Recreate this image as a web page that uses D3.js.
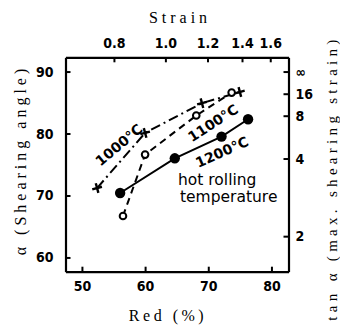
<!DOCTYPE html>
<html><head><meta charset="utf-8">
<script src="https://cdn.jsdelivr.net/npm/d3@7"></script>
<style>
body{margin:0;background:#fff;}
svg{display:block;}
</style></head>
<body>
<svg id="c" width="340" height="327"></svg>
<script>
// ---- data ----
const redTicks = [50, 60, 70, 80];
const angleTicks = [60, 70, 80, 90];
const strainTicks = [0.8, 1.0, 1.2, 1.4, 1.6];
const tanTicks = [2, 4, 8, 16, Infinity];
const tanLabels = ["2", "4", "8", "16", "∞"];

const red1000 = [52.4, 60.0, 69.0, 75.0];
const ang1000 = [71.2, 80.1, 84.9, 86.7];
const red1100 = [56.5, 60.0, 68.1, 73.7];
const ang1100 = [66.7, 76.6, 82.9, 86.6];
const red1200 = [56.05, 64.7, 72.1, 76.3];
const ang1200 = [70.4, 76.0, 79.5, 82.3];
const seriesNames = ["1000°C", "1100°C", "1200°C"];

// ---- layout ----
const svg = d3.select("#c");
const L = 65.5, R = 288.5, T = 57.3, B = 271.7;
const x = d3.scaleLinear().domain([47.4, 82.7]).range([L, R]);
const y = d3.scaleLinear().domain([57.7, 92.3]).range([B, T]);

const tickFont = "'DejaVu Sans Condensed','DejaVu Sans',sans-serif";
function styleAxis(g){
  g.select(".domain").attr("stroke","#000").attr("stroke-width",2.2);
  g.selectAll(".tick line").attr("stroke","#000").attr("stroke-width",2);
  g.selectAll(".tick text").attr("font-family",tickFont).attr("font-weight","bold")
   .attr("font-size",14).attr("fill","#000");
}

// bottom axis
svg.append("g").attr("transform",`translate(0,${B})`)
  .call(d3.axisBottom(x).tickValues(redTicks).tickSizeInner(-5).tickSizeOuter(0).tickPadding(9))
  .call(styleAxis);
// left axis
svg.append("g").attr("transform",`translate(${L},0)`)
  .call(d3.axisLeft(y).tickValues(angleTicks).tickSizeInner(-5).tickSizeOuter(0).tickPadding(12))
  .call(styleAxis);
// top axis (strain = -ln(1-red))
const strainPos = strainTicks.map(s => 100*(1-Math.exp(-s)));
svg.append("g").attr("transform",`translate(0,${T})`)
  .call(d3.axisTop(x).tickValues(strainPos).tickSizeInner(-5).tickSizeOuter(0).tickPadding(9)
        .tickFormat((d,i)=>d3.format(".1f")(strainTicks[i])))
  .call(styleAxis);
// right axis (tan alpha)
const tanPos = tanTicks.map(t => isFinite(t) ? Math.atan(t)*180/Math.PI : 90);
svg.append("g").attr("transform",`translate(${R},0)`)
  .call(d3.axisRight(y).tickValues(tanPos).tickSizeInner(-5).tickSizeOuter(0).tickPadding(7)
        .tickFormat((d,i)=>tanLabels[i]))
  .call(styleAxis);

// axis titles
const serif = "'Liberation Serif','Times New Roman',serif";
svg.append("text").attr("x",180).attr("y",23).attr("text-anchor","middle")
  .attr("font-family",serif).attr("font-size",16).attr("letter-spacing",4).text("Strain");
svg.append("text").attr("x",168).attr("y",321).attr("text-anchor","middle")
  .attr("font-family",serif).attr("font-size",16).attr("letter-spacing",3.5).text("Red (%)");
svg.append("text").attr("transform","translate(26,160) rotate(-90)").attr("text-anchor","middle")
  .attr("font-family",serif).attr("font-size",16).attr("letter-spacing",4).text("α (Shearing angle)");
svg.append("text").attr("transform","translate(337,178) rotate(-90)").attr("text-anchor","middle")
  .attr("font-family",serif).attr("font-size",15).attr("letter-spacing",4.3).text("tan α (max. shearing strain)");

// series
const line = d3.line().x(d=>x(d[0])).y(d=>y(d[1]));
const s1000 = red1000.map((r,i)=>[r, ang1000[i]]);
const s1100 = red1100.map((r,i)=>[r, ang1100[i]]);
const s1200 = red1200.map((r,i)=>[r, ang1200[i]]);

svg.append("path").attr("d",line(s1000)).attr("fill","none").attr("stroke","#000")
  .attr("stroke-width",2).attr("stroke-dasharray","10,4,2,4");
svg.append("path").attr("d",line(s1100)).attr("fill","none").attr("stroke","#000")
  .attr("stroke-width",2).attr("stroke-dasharray","7,5");
svg.append("path").attr("d",line(s1200)).attr("fill","none").attr("stroke","#000")
  .attr("stroke-width",2);

// markers
svg.selectAll(".m1000").data(s1000).join("g")
  .attr("transform",d=>`translate(${x(d[0])},${y(d[1])}) rotate(-15)`)
  .each(function(){
    const g = d3.select(this);
    g.append("line").attr("x1",-5).attr("x2",5).attr("y1",0).attr("y2",0).attr("stroke","#000").attr("stroke-width",2.4);
    g.append("line").attr("x1",0).attr("x2",0).attr("y1",-5).attr("y2",5).attr("stroke","#000").attr("stroke-width",2.4);
  });
svg.selectAll(".m1100").data(s1100).join("circle")
  .attr("cx",d=>x(d[0])).attr("cy",d=>y(d[1])).attr("r",3.3)
  .attr("fill","#fff").attr("stroke","#000").attr("stroke-width",2);
svg.selectAll(".m1200").data(s1200).join("circle")
  .attr("cx",d=>x(d[0])).attr("cy",d=>y(d[1])).attr("r",5.2).attr("fill","#000");

// series labels
const lab = "'DejaVu Sans','Liberation Sans',sans-serif";
const labPos = [[119,145,-40],[213,123,-33],[222,152,-24]];
seriesNames.forEach((n,i)=>{
  svg.append("text").attr("transform",`translate(${labPos[i][0]},${labPos[i][1]}) rotate(${labPos[i][2]})`)
    .attr("text-anchor","middle").attr("dy","0.35em").attr("font-family",lab).attr("font-weight","bold")
    .attr("font-size",14).text(n);
});
svg.append("text").attr("x",178).attr("y",185).attr("font-family",lab).attr("font-size",15.5).text("hot rolling");
svg.append("text").attr("x",180).attr("y",202).attr("font-family",lab).attr("font-size",15.5).text("temperature");
</script>
</body></html>
